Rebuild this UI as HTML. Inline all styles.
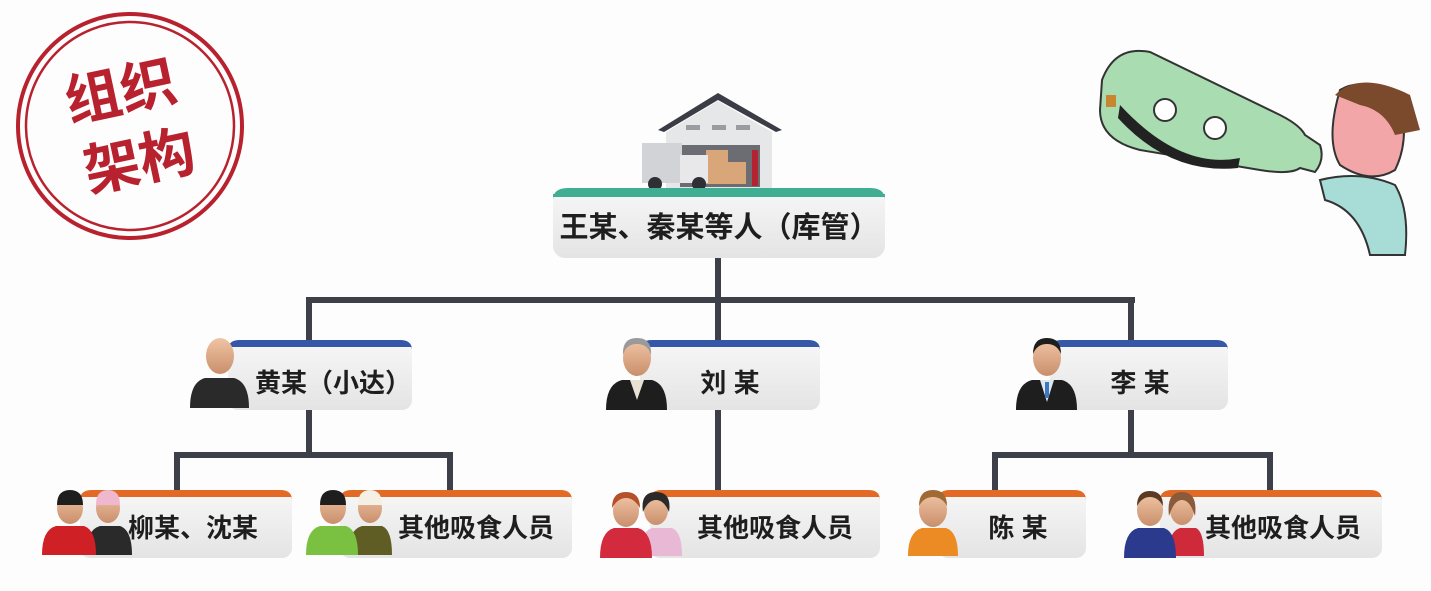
<!DOCTYPE html>
<html><head><meta charset="utf-8"><style>
html,body{margin:0;padding:0;background:#fff;}
svg{display:block}
text{font-family:"Liberation Sans","Noto Sans CJK SC",sans-serif;font-weight:bold;}
</style></head><body>
<svg width="1431" height="591" viewBox="0 0 1431 591" xmlns="http://www.w3.org/2000/svg">
<defs>
<linearGradient id="bx" x1="0" y1="0" x2="0" y2="1">
<stop offset="0" stop-color="#f7f7f7"/><stop offset="1" stop-color="#e4e4e4"/></linearGradient>
<linearGradient id="face" x1="0" y1="0" x2="0" y2="1">
<stop offset="0" stop-color="#f0c4a4"/><stop offset="1" stop-color="#c98f6c"/></linearGradient>
</defs>
<rect width="1431" height="591" fill="#fdfdfd"/>

<!-- stamp -->
<g fill="none" stroke="#b8222e">
<circle cx="130" cy="126" r="112" stroke-width="4"/>
<circle cx="130" cy="126" r="104" stroke-width="2.5"/>
</g>
<g transform="rotate(-12 130 126)" fill="#b8222e">
<text x="128" y="110" font-size="56" text-anchor="middle">组织</text>
<text x="132" y="182" font-size="56" text-anchor="middle">架构</text>
</g>

<!-- warehouse -->
<g>
<polygon points="658,130 718,93 782,130 776,132 718,100 664,132" fill="#3a3d45"/>
<polygon points="666,132 718,101 772,132 772,188 666,188" fill="#e6e7e9"/>
<rect x="686" y="125" width="14" height="5" fill="#9a9ca0"/>
<rect x="712" y="125" width="14" height="5" fill="#9a9ca0"/>
<rect x="736" y="125" width="14" height="5" fill="#9a9ca0"/>
<rect x="680" y="145" width="80" height="42" fill="#6b6d72"/>
<rect x="706" y="150" width="22" height="34" fill="#d9a679"/>
<rect x="728" y="162" width="18" height="22" fill="#d9a679"/>
<rect x="642" y="143" width="40" height="40" fill="#d2d3d6"/>
<rect x="680" y="155" width="28" height="28" fill="#e8e8ea"/>
<circle cx="655" cy="184" r="7" fill="#2e3036"/>
<circle cx="699" cy="184" r="7" fill="#2e3036"/>
<rect x="752" y="150" width="6" height="36" fill="#b52230"/>
</g>

<!-- bottle cartoon -->
<g>
<path d="M1102,80 Q1115,45 1150,52 L1280,115 Q1300,125 1305,135 L1320,145 Q1325,160 1315,172 L1300,168 Q1290,175 1260,170 L1140,150 Q1100,140 1100,110 Z" fill="#a9dcb0" stroke="#333" stroke-width="2"/>
<path d="M1120,105 Q1180,170 1240,158 L1238,168 Q1170,175 1118,118 Z" fill="#222"/>
<circle cx="1165" cy="110" r="11" fill="#fff" stroke="#333" stroke-width="2"/>
<circle cx="1215" cy="128" r="11" fill="#fff" stroke="#333" stroke-width="2"/>
<rect x="1106" y="95" width="10" height="12" fill="#c8872e"/>
<path d="M1340,90 Q1365,75 1400,100 Q1410,140 1395,170 Q1370,185 1340,165 Q1325,140 1340,90Z" fill="#f2a6a8" stroke="#333" stroke-width="2"/>
<path d="M1335,95 Q1360,70 1410,95 L1420,130 L1395,135 Q1385,110 1360,105Z" fill="#7b4a2c"/>
<path d="M1320,180 Q1360,170 1395,185 Q1410,210 1405,255 L1370,255 Q1360,210 1325,200Z" fill="#a8dcd6" stroke="#333" stroke-width="2"/>
</g>

<!-- connectors -->
<g fill="#3d4048">
<rect x="715" y="258" width="6" height="44"/>
<rect x="306" y="297" width="829" height="6"/>
<rect x="306" y="297" width="6" height="45"/>
<rect x="715" y="297" width="6" height="45"/>
<rect x="1128" y="297" width="6" height="45"/>
<rect x="306" y="410" width="6" height="47"/>
<rect x="174" y="452" width="279" height="6"/>
<rect x="174" y="452" width="6" height="40"/>
<rect x="447" y="452" width="6" height="40"/>
<rect x="715" y="410" width="6" height="82"/>
<rect x="1128" y="410" width="6" height="47"/>
<rect x="992" y="452" width="281" height="6"/>
<rect x="992" y="452" width="6" height="40"/>
<rect x="1267" y="452" width="6" height="40"/>
</g>

<!-- top box -->
<rect x="553" y="188" width="332" height="70" rx="12" fill="url(#bx)"/>
<path d="M553,200 Q553,188 568,188 L870,188 Q885,188 885,200 L885,196 L553,196Z" fill="#3fae92"/>
<rect x="553" y="194" width="332" height="3" fill="#3fae92"/>
<text x="719" y="237" font-size="29" text-anchor="middle" fill="#1e1e1e">王某、秦某等人（库管）</text>

<!-- level 2 boxes -->
<g>
<rect x="228" y="340" width="184" height="70" rx="10" fill="url(#bx)"/>
<path d="M228,350 Q228,340 240,340 L400,340 Q412,340 412,350 L412,347 L228,347Z" fill="#3657a8"/>
<text x="255" y="392" font-size="26" fill="#1e1e1e">黄某（小达）</text>

<rect x="640" y="340" width="180" height="70" rx="10" fill="url(#bx)"/>
<path d="M640,350 Q640,340 652,340 L808,340 Q820,340 820,350 L820,347 L640,347Z" fill="#3657a8"/>
<text x="730" y="392" font-size="26" text-anchor="middle" fill="#1e1e1e">刘 某</text>

<rect x="1050" y="340" width="178" height="70" rx="10" fill="url(#bx)"/>
<path d="M1050,350 Q1050,340 1062,340 L1216,340 Q1228,340 1228,350 L1228,347 L1050,347Z" fill="#3657a8"/>
<text x="1140" y="392" font-size="26" text-anchor="middle" fill="#1e1e1e">李 某</text>
</g>

<!-- level 3 boxes -->
<g>
<rect x="80" y="490" width="212" height="68" rx="10" fill="url(#bx)"/>
<path d="M80,500 Q80,490 92,490 L280,490 Q292,490 292,500 L292,497 L80,497Z" fill="#e36a24"/>
<text x="128" y="537" font-size="26" fill="#1e1e1e">柳某、沈某</text>

<rect x="340" y="490" width="232" height="68" rx="10" fill="url(#bx)"/>
<path d="M340,500 Q340,490 352,490 L560,490 Q572,490 572,500 L572,497 L340,497Z" fill="#e36a24"/>
<text x="398" y="537" font-size="26" fill="#1e1e1e">其他吸食人员</text>

<rect x="650" y="490" width="230" height="68" rx="10" fill="url(#bx)"/>
<path d="M650,500 Q650,490 662,490 L868,490 Q880,490 880,500 L880,497 L650,497Z" fill="#e36a24"/>
<text x="697" y="537" font-size="26" fill="#1e1e1e">其他吸食人员</text>

<rect x="938" y="490" width="148" height="68" rx="10" fill="url(#bx)"/>
<path d="M938,500 Q938,490 950,490 L1074,490 Q1086,490 1086,500 L1086,497 L938,497Z" fill="#e36a24"/>
<text x="1018" y="537" font-size="26" text-anchor="middle" fill="#1e1e1e">陈 某</text>

<rect x="1160" y="490" width="222" height="68" rx="10" fill="url(#bx)"/>
<path d="M1160,500 Q1160,490 1172,490 L1370,490 Q1382,490 1382,500 L1382,497 L1160,497Z" fill="#e36a24"/>
<text x="1205" y="537" font-size="26" fill="#1e1e1e">其他吸食人员</text>
</g>

<!-- person icons -->
<!-- 黄某 -->
<g><path d="M190,408 Q190,382 205,378 L234,378 Q249,382 249,408Z" fill="#2a2a2a"/>
<ellipse cx="220" cy="356" rx="14" ry="18" fill="url(#face)"/></g>
<!-- 刘某 -->
<g><path d="M606,410 Q606,384 622,380 L652,380 Q667,384 667,410Z" fill="#1e1e1e"/>
<polygon points="630,380 644,380 637,400" fill="#e8e2d4"/>
<ellipse cx="637" cy="358" rx="14" ry="18" fill="url(#face)"/>
<path d="M623,355 Q622,338 637,338 Q652,338 651,355 Q648,344 637,344 Q626,344 623,355Z" fill="#9a9a9a"/></g>
<!-- 李某 -->
<g><path d="M1016,410 Q1016,384 1032,380 L1062,380 Q1077,384 1077,410Z" fill="#1e1e1e"/>
<polygon points="1040,380 1054,380 1047,402" fill="#dfe6ee"/>
<rect x="1045" y="382" width="4" height="16" fill="#3b78c2"/>
<ellipse cx="1047" cy="358" rx="14" ry="18" fill="url(#face)"/>
<path d="M1033,354 Q1033,338 1047,338 Q1061,338 1061,354 Q1057,344 1047,344 Q1037,344 1033,354Z" fill="#1e1e1e"/></g>
<!-- 柳沈 -->
<g><path d="M86,555 Q86,530 100,526 L120,526 Q132,530 132,555Z" fill="#2a2a2a"/>
<ellipse cx="108" cy="508" rx="12" ry="15" fill="url(#face)"/>
<path d="M96,505 Q96,490 108,490 Q120,490 120,505Z" fill="#f0b8cf"/>
<path d="M42,555 Q42,530 56,526 L84,526 Q96,530 96,555Z" fill="#cf2026"/>
<ellipse cx="70" cy="508" rx="13" ry="16" fill="url(#face)"/>
<path d="M57,505 Q57,490 70,490 Q83,490 83,505Z" fill="#1e1e1e"/></g>
<!-- 其他1 -->
<g><path d="M348,555 Q348,530 362,526 L382,526 Q392,530 392,555Z" fill="#5f5c24"/>
<ellipse cx="370" cy="508" rx="12" ry="15" fill="url(#face)"/>
<path d="M358,505 Q358,490 370,490 Q382,490 382,505Z" fill="#f4f0e6"/>
<path d="M306,555 Q306,530 320,526 L346,526 Q358,530 358,555Z" fill="#7ac142"/>
<ellipse cx="333" cy="508" rx="13" ry="16" fill="url(#face)"/>
<path d="M320,505 Q320,490 333,490 Q346,490 346,505Z" fill="#1e1e1e"/></g>
<!-- 其他2 -->
<g><path d="M640,556 Q640,532 652,528 L672,528 Q682,532 682,556Z" fill="#e8b8d4"/>
<ellipse cx="656" cy="510" rx="12" ry="15" fill="url(#face)"/>
<path d="M643,512 Q640,492 656,492 Q672,492 669,512 Q664,500 656,500 Q648,500 643,512Z" fill="#2a2a2a"/>
<path d="M600,558 Q600,532 614,528 L638,528 Q652,532 652,558Z" fill="#d42a3e"/>
<ellipse cx="626" cy="511" rx="13" ry="16" fill="url(#face)"/>
<path d="M612,508 Q612,492 626,492 Q640,492 640,508 Q634,498 626,498 Q618,498 612,508Z" fill="#b4502a"/></g>
<!-- 陈某 -->
<g><path d="M908,556 Q908,532 922,528 L946,528 Q958,532 958,556Z" fill="#ec8a24"/>
<ellipse cx="933" cy="510" rx="14" ry="17" fill="url(#face)"/>
<path d="M919,506 Q919,490 933,490 Q947,490 947,506 Q942,497 933,497 Q924,497 919,506Z" fill="#a06a34"/></g>
<!-- 其他3 -->
<g><path d="M1168,556 Q1168,532 1180,528 L1196,528 Q1204,532 1204,556Z" fill="#cf2a3a"/>
<ellipse cx="1182" cy="510" rx="12" ry="15" fill="url(#face)"/>
<path d="M1169,516 Q1166,492 1182,492 Q1198,492 1195,516 Q1190,500 1182,500 Q1174,500 1169,516Z" fill="#8a5a3a"/>
<path d="M1124,558 Q1124,532 1138,528 L1164,528 Q1176,532 1176,558Z" fill="#2c3a8e"/>
<ellipse cx="1150" cy="510" rx="13" ry="16" fill="url(#face)"/>
<path d="M1137,506 Q1137,491 1150,491 Q1163,491 1163,506 Q1158,497 1150,497 Q1142,497 1137,506Z" fill="#5a3a22"/></g>
</svg>
</body></html>
